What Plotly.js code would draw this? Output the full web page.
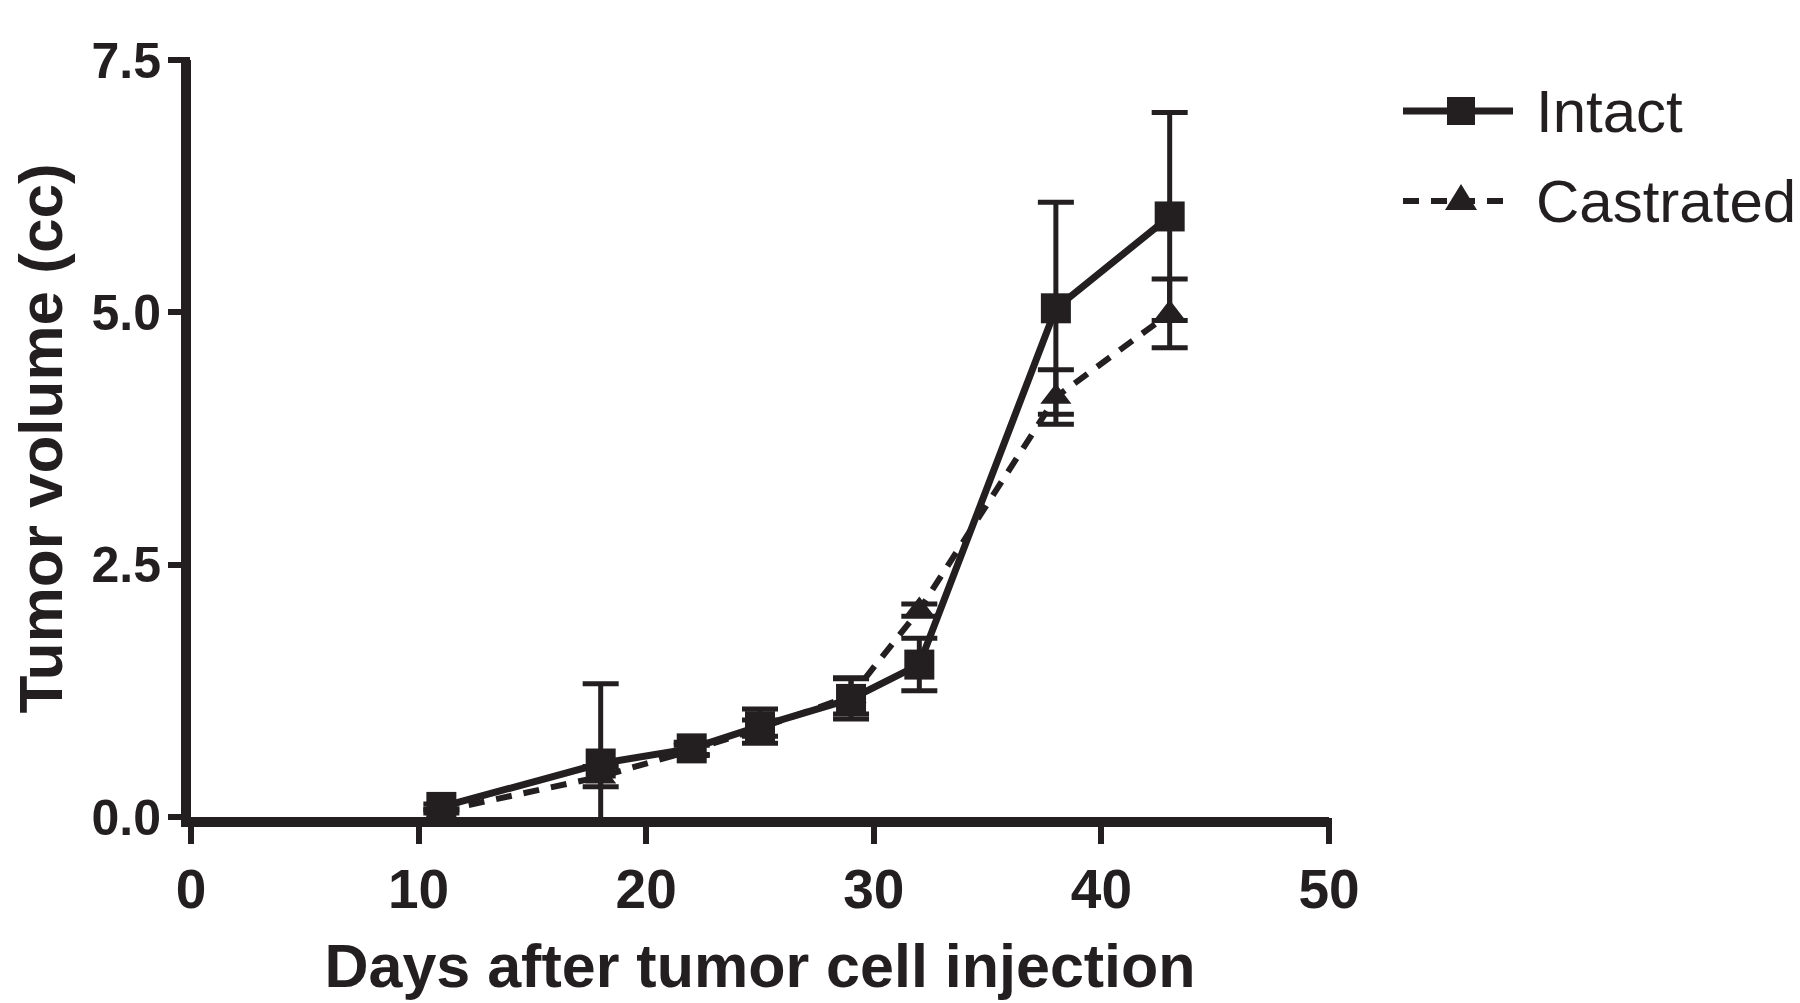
<!DOCTYPE html>
<html>
<head>
<meta charset="utf-8">
<script src="https://cdn.plot.ly/plotly-3.0.1.min.js"></script>
<style>
  html, body { margin: 0; padding: 0; background: #fff; }
  #chart { width: 1800px; height: 1003px; }
</style>
</head>
<body>
<div id="chart"></div>
<script>
// days after injection
const days = [11, 18, 22, 25, 29, 32, 38, 43];

// tumor volume (cc), mean and error
const intact = [0.10, 0.53, 0.68, 0.90, 1.17, 1.51, 5.04, 5.95];
const intactErr = [0.03, 0.79, 0.06, 0.17, 0.20, 0.26, 1.05, 1.03];
const castrated = [0.06, 0.40, 0.66, 0.88, 1.20, 2.05, 4.16, 4.99];
const castratedErr = [0.02, 0.10, 0.05, 0.08, 0.18, 0.06, 0.27, 0.34];

const xTicks = [0, 10, 20, 30, 40, 50];
const yTicks = [0, 2.5, 5, 7.5];
const yTickText = ['0.0', '2.5', '5.0', '7.5'];

const seriesNames = ['Intact', 'Castrated'];
const xTitle = 'Days after tumor cell injection';
const yTitle = 'Tumor volume (cc)';

const ink = '#231f20';
const clear = 'rgba(0,0,0,0)';
const fontFam = '"Liberation Sans", Arial, Helvetica, sans-serif';
const dashStyle = '16px,12px';

const castratedTrace = {
    x: days,
    y: castrated,
    name: seriesNames[1],
    type: 'scatter',
    mode: 'lines+markers',
    line: { color: ink, width: 6, dash: dashStyle },
    marker: { symbol: 'triangle-up', size: 27, color: ink },
    error_y: { type: 'data', array: castratedErr, visible: true, color: ink, thickness: 5, width: 18 },
    cliponaxis: false
};

const intactTrace = {
    x: days,
    y: intact,
    name: seriesNames[0],
    type: 'scatter',
    mode: 'lines+markers',
    line: { color: ink, width: 7 },
    marker: { symbol: 'square', size: 30, color: ink },
    error_y: { type: 'data', array: intactErr, visible: true, color: ink, thickness: 5, width: 18 },
    cliponaxis: false
};

// empty traces so the overlay axes (long tick marks only) get drawn
const tickHolderX = { x: [null], y: [null], xaxis: 'x2', yaxis: 'y', type: 'scatter', mode: 'markers', showlegend: false, hoverinfo: 'skip' };
const tickHolderY = { x: [null], y: [null], xaxis: 'x', yaxis: 'y2', type: 'scatter', mode: 'markers', showlegend: false, hoverinfo: 'skip' };

// legend drawn by hand so the symbols can be as big as in the figure
const legX = 1.116;     // symbol centre, paper units
const legTextX = 1.18;
const legRows = [0.9326, 0.8137];
const legendShapes = [
    { type: 'line', xref: 'paper', yref: 'paper', xsizemode: 'pixel', xanchor: legX,
      x0: -58, x1: 52, y0: legRows[0], y1: legRows[0], line: { color: ink, width: 7 } },
    { type: 'rect', xref: 'paper', yref: 'paper', xsizemode: 'pixel', ysizemode: 'pixel',
      xanchor: legX, yanchor: legRows[0], x0: -14, x1: 14, y0: -14, y1: 14,
      fillcolor: ink, line: { width: 0 } },
    { type: 'line', xref: 'paper', yref: 'paper', xsizemode: 'pixel', xanchor: legX,
      x0: -58, x1: 52, y0: legRows[1], y1: legRows[1], line: { color: ink, width: 6, dash: dashStyle } },
    { type: 'path', xref: 'paper', yref: 'paper', xsizemode: 'pixel', ysizemode: 'pixel',
      xanchor: legX, yanchor: legRows[1], path: 'M-16,-9 L16,-9 L0,17 Z',
      fillcolor: ink, line: { width: 0 } }
];
const legendLabels = seriesNames.map((name, i) => ({
    text: name, xref: 'paper', yref: 'paper', x: legTextX, y: legRows[i],
    xanchor: 'left', yanchor: 'middle', showarrow: false,
    font: { size: 60, family: fontFam, color: ink }
}));

// y title as an annotation so it can sit close to the page edge
const yTitleNote = {
    text: '<b>' + yTitle + '</b>', xref: 'paper', yref: 'paper', x: 0, y: 0.5,
    xanchor: 'center', yanchor: 'middle', xshift: -151, textangle: -90, showarrow: false,
    font: { size: 62, family: fontFam, color: ink }
};

const layout = {
    width: 1800,
    height: 1003,
    paper_bgcolor: '#fff',
    plot_bgcolor: '#fff',
    margin: { l: 191, r: 471, t: 60, b: 186 },
    font: { family: fontFam, color: ink },
    showlegend: false,
    shapes: legendShapes,
    annotations: legendLabels.concat([yTitleNote]),
    // main axes: line, labels and titles (short hidden ticks keep labels close)
    xaxis: {
        range: [0, 50],
        tickvals: xTicks,
        ticks: 'outside',
        ticklen: 15,
        tickcolor: clear,
        showline: true,
        linewidth: 10,
        linecolor: ink,
        showgrid: false,
        zeroline: false,
        tickfont: { size: 55, family: fontFam, weight: 'bold', color: ink },
        title: { text: xTitle, font: { size: 61, weight: 'bold', family: fontFam, color: ink }, standoff: 29 }
    },
    yaxis: {
        range: [0, 7.5],
        tickvals: yTicks,
        ticktext: yTickText,
        ticks: 'outside',
        ticklen: 10,
        tickcolor: clear,
        showline: true,
        linewidth: 10,
        linecolor: ink,
        showgrid: false,
        zeroline: false,
        tickfont: { size: 50, family: fontFam, weight: 'bold', color: ink }
    },
    // overlay axes that only carry the long tick marks
    xaxis2: {
        overlaying: 'x', anchor: 'y', side: 'bottom',
        range: [0, 50], tickvals: xTicks,
        ticks: 'outside', ticklen: 26, tickwidth: 6, tickcolor: ink,
        showticklabels: false, showline: false, showgrid: false, zeroline: false
    },
    yaxis2: {
        overlaying: 'y', anchor: 'x', side: 'left',
        range: [0, 7.5], tickvals: yTicks,
        ticks: 'outside', ticklen: 22, tickwidth: 6, tickcolor: ink,
        showticklabels: false, showline: false, showgrid: false, zeroline: false
    }
};

Plotly.newPlot('chart', [tickHolderX, tickHolderY, castratedTrace, intactTrace], layout, { displayModeBar: false, staticPlot: true });
</script>
</body>
</html>
